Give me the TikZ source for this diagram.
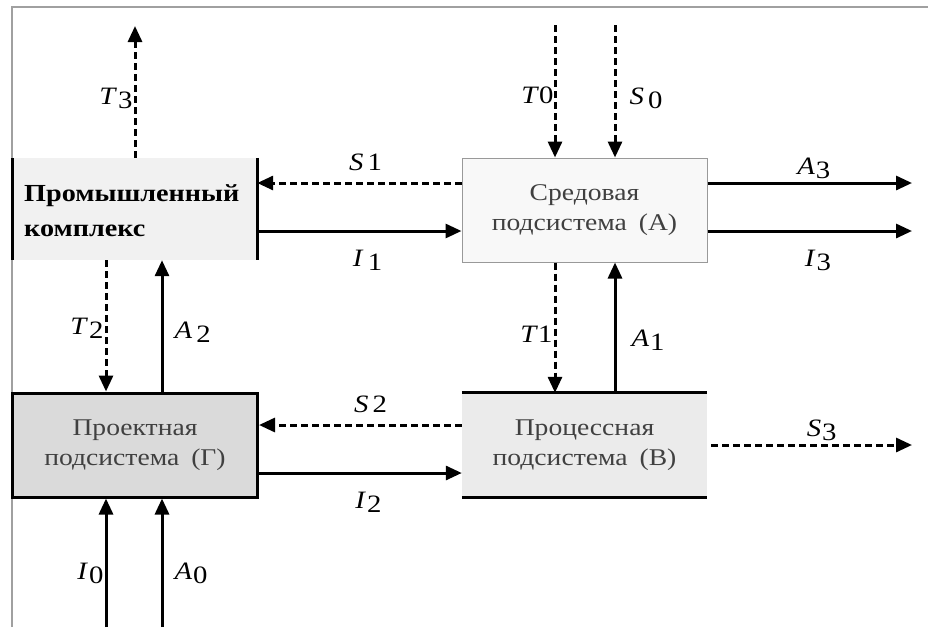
\documentclass[tikz,border=0pt]{standalone}
\usepackage{fontspec}
\setmainfont[FakeStretch=1.15]{Liberation Serif}
\usepackage{tikz}
\usetikzlibrary{arrows.meta,positioning,calc}
\definecolor{FrameGray}{HTML}{A0A0A0}
\definecolor{BoxText}{HTML}{404040}
\definecolor{PaleGray}{HTML}{F1F1F1}
\definecolor{WhiteGray}{HTML}{F8F8F8}
\definecolor{MidGray}{HTML}{DADADA}
\definecolor{StripeGray}{HTML}{EBEBEB}
\definecolor{EdgeGray}{HTML}{999999}
\newcommand{\lab}[2]{\textit{#1}\kern1pt\raisebox{-0.35ex}{#2}}

\begin{document}
\begin{tikzpicture}[x=1pt,y=-1pt,
  subsys/.style={rectangle,minimum width=245pt,minimum height=104pt,inner sep=0pt,
                 font=\fontsize{24}{30}\selectfont,align=center,text=BoxText},
  lbl/.style={font=\fontsize{25}{28}\selectfont,inner sep=3pt},
  solidarr/.style={-{Triangle[length=16pt,width=14pt]},line width=3pt},
  dasharr/.style={-{Triangle[length=16pt,width=14pt]},line width=3pt,dash pattern=on 7pt off 4pt}
]
\useasboundingbox (0,0) rectangle (928,627);
\fill[white] (0,0) rectangle (928,627);
\draw[FrameGray,line width=2pt] (12,627) -- (12,7) -- (928,7);

% subsystems
\node[subsys,fill=PaleGray,minimum width=244pt,minimum height=102pt] (P) at (135,209) {};
\node[font=\bfseries\fontsize{24.5}{35}\selectfont,align=left,anchor=west,inner sep=0pt] (Ptext) at (24,211) {Промышленный\\комплекс};
\draw[line width=3pt] (P.north west) -- (P.south west);
\draw[line width=3pt] (P.north east) -- (P.south east);

\node[subsys,fill=WhiteGray,draw=EdgeGray,line width=1pt] (A) at (584.5,210) {Средовая\\подсистема\enspace(А)};
\node[subsys,fill=MidGray,draw=black,line width=3pt] (G) at (135,445) {Проектная\\подсистема\enspace(Г)};
\node[subsys,fill=StripeGray] (B) at (584.5,445) {Процессная\\подсистема\enspace(В)};
\draw[line width=3pt] (B.north west) -- (B.north east);
\draw[line width=3pt] (B.south west) -- (B.south east);

% free ends and rows
\coordinate (t3) at (135,26);
\coordinate (t0) at (555,25);
\coordinate (s0) at (615,25);
\coordinate (i0) at (106,627);
\coordinate (a0) at (162,627);
\coordinate (c1) at (106,0);
\coordinate (c2) at (162,0);
\coordinate (r1) at (0,183);
\coordinate (r2) at (0,231);
\coordinate (r3) at (0,425);
\coordinate (r4) at (0,473);
\coordinate (r5) at (0,445);
\coordinate (ex) at (912,0);

% flows
\draw[dasharr] (P.north) -- node[lbl,left,inner sep=1pt,pos=0.45] (lT3) {\lab{T}{3}} (t3);
\draw[dasharr] (t0) -- node[lbl,left,inner sep=0pt,pos=0.53] (lT0) {\textit{T}0} (t0 |- A.north);
\draw[dasharr] (s0) -- node[lbl,right,xshift=10pt,pos=0.55] (lS0) {\textit{S}\,\raisebox{-0.35ex}{0}} (s0 |- A.north);
\draw[dasharr] (A.west |- r1) -- node[lbl,above,yshift=8pt,pos=0.47] (lS1) {\textit{S}\,1} (P.east |- r1);
\draw[solidarr] (P.east |- r2) -- node[lbl,below,yshift=-15pt,pos=0.54] (lI1) {\textit{I}\,\raisebox{-0.35ex}{1}} (A.west |- r2);
\draw[solidarr] (A.east |- r1) -- node[lbl,above,pos=0.52] (lA3) {\lab{A}{3}} (ex |- r1);
\draw[solidarr] (A.east |- r2) -- node[lbl,below,yshift=-15pt,pos=0.54] (lI3) {\lab{I}{3}} (ex |- r2);
\draw[dasharr] (A.south -| t0) -- node[lbl,left,inner sep=1pt,pos=0.55] (lT1) {\textit{T}1} (B.north -| t0);
\draw[solidarr] (B.north -| s0) -- node[lbl,right,xshift=12pt,pos=0.4] (lA1) {\lab{A}{1}} (A.south -| s0);
\draw[dasharr] (B.west |- r3) -- node[lbl,above,yshift=8pt,pos=0.45] (lS2) {\textit{S}\,2} (G.east |- r3);
\draw[solidarr] (G.east |- r4) -- node[lbl,below,yshift=-15pt,pos=0.54] (lI2) {\lab{I}{2}} (B.west |- r4);
\draw[dasharr] ([xshift=4pt]B.east |- r5) -- node[lbl,above,pos=0.55] (lS3) {\lab{S}{3}} (ex |- r5);
\draw[dasharr] (P.south -| c1) -- node[lbl,left,inner sep=1pt,pos=0.52] (lT2) {\lab{T}{2}} (G.north -| c1);
\draw[solidarr] (G.north -| c2) -- node[lbl,right,xshift=8pt,pos=0.45] (lA2) {\textit{A}\,\raisebox{-0.35ex}{2}} (P.south -| c2);
\draw[solidarr] (i0) -- node[lbl,left,inner sep=1pt,pos=0.42] (lI0) {\lab{I}{0}} (G.south -| i0);
\draw[solidarr] (a0) -- node[lbl,right,xshift=8pt,pos=0.42] (lA0) {\lab{A}{0}} (G.south -| a0);
\end{tikzpicture}
\end{document}
